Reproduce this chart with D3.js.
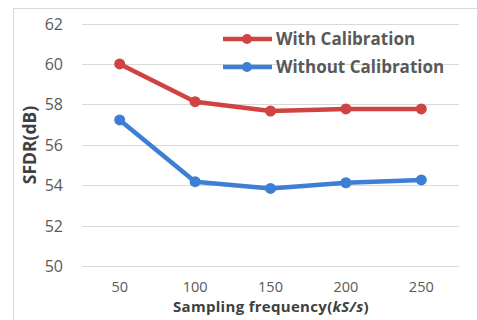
<!DOCTYPE html>
<html><head><meta charset="utf-8">
<script src="https://cdn.jsdelivr.net/npm/d3@7"></script>
<style>body{margin:0;background:#fff}svg{display:block}text{font-family:"Open Sans",sans-serif}</style>
</head><body>
<svg id="c" width="477" height="320"></svg>
<script>
const categories = ["50","100","150","200","250"];
const withCal = [60.0, 58.13, 57.67, 57.77, 57.77];
const withoutCal = [57.23, 54.17, 53.84, 54.12, 54.26];
const yTicks = [50,52,54,56,58,60,62];
const seriesNames = ["With Calibration","Without Calibration"];
const colors = ["#d04343","#3e7fd6"];

const svg = d3.select("#c");
svg.append("rect").attr("x",13.5).attr("y",8.5).attr("width",500).attr("height",400)
  .attr("fill","none").attr("stroke","#d9d9d9");

const x = d3.scaleBand().domain(categories).range([82,459]);
const y = d3.scaleLinear().domain([50,62]).range([266,23.5]);

// gridlines
svg.append("g").selectAll("line").data(yTicks).join("line")
  .attr("x1",82).attr("x2",459).attr("y1",d=>Math.round(y(d))+0.5).attr("y2",d=>Math.round(y(d))+0.5)
  .attr("stroke","#d9d9d9").attr("stroke-width",1);

// y axis
const ya = svg.append("g").attr("transform","translate(63,0)")
  .call(d3.axisLeft(y).tickValues(yTicks).tickSize(0).tickPadding(0));
ya.select(".domain").remove();
ya.selectAll("text").attr("font-size",16).attr("fill","#595959").attr("font-family","Open Sans, sans-serif").attr("dy","0.35em");

// x axis
const xa = svg.append("g").attr("transform","translate(0,292)")
  .call(d3.axisBottom(x).tickSize(0).tickPadding(0));
xa.select(".domain").remove();
xa.selectAll("text").attr("font-size",14.5).attr("fill","#595959").attr("font-family","Open Sans, sans-serif").attr("y",0).attr("dy","0");

// titles
const xt = svg.append("text").attr("x",271).attr("y",312).attr("text-anchor","middle")
  .attr("font-size",15).attr("letter-spacing",0.3).attr("font-weight","bold").attr("fill","#404040");
xt.append("tspan").text("Sampling frequency(");
xt.append("tspan").attr("font-style","italic").text("kS/s");
xt.append("tspan").text(")");

svg.append("text").attr("transform","translate(36,145) rotate(-90)").attr("text-anchor","middle")
  .attr("font-size",17.5).attr("font-weight","bold").attr("fill","#404040").text("SFDR(dB)");

// series
const line = d3.line().x((d,i)=>x(categories[i])+x.bandwidth()/2).y(d=>y(d));
[withCal, withoutCal].forEach((s,k)=>{
  svg.append("path").datum(s).attr("d",line).attr("fill","none")
    .attr("stroke",colors[k]).attr("stroke-width",4.5).attr("stroke-linejoin","round");
  svg.append("g").selectAll("circle").data(s).join("circle")
    .attr("cx",(d,i)=>x(categories[i])+x.bandwidth()/2).attr("cy",d=>y(d)).attr("r",5.5)
    .attr("fill",colors[k]);
});

// legend
seriesNames.forEach((n,k)=>{
  const ly = 39 + k*28;
  svg.append("line").attr("x1",223).attr("x2",272).attr("y1",ly).attr("y2",ly)
    .attr("stroke",colors[k]).attr("stroke-width",4.5);
  svg.append("circle").attr("cx",247).attr("cy",ly).attr("r",5).attr("fill",colors[k]);
  svg.append("text").attr("x",276).attr("y",ly).attr("dy","0.36em").attr("font-size",17)
    .attr("font-weight","bold").attr("fill","#595959").text(n);
});
</script>
</body></html>
